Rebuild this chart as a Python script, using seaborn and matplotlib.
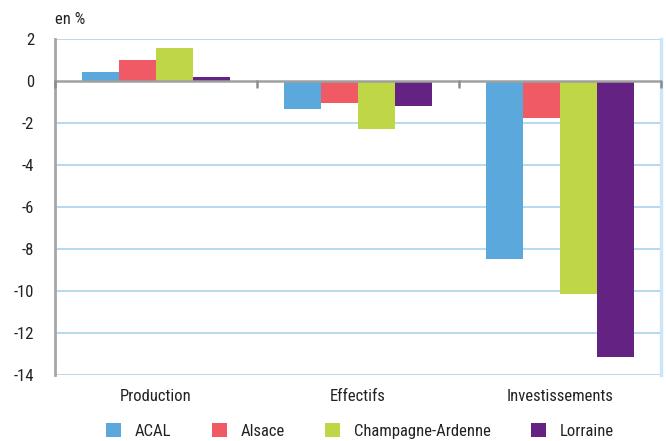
import matplotlib
matplotlib.use("Agg")
import matplotlib.pyplot as plt
from matplotlib import font_manager
from matplotlib.patches import Patch
import seaborn as sns
import pandas as pd

categories = ["Production", "Effectifs", "Investissements"]
regions = ["ACAL", "Alsace", "Champagne-Ardenne", "Lorraine"]
acal = [0.43, -1.32, -8.48]
alsace = [1.0, -1.03, -1.75]
champagne = [1.57, -2.27, -10.14]
lorraine = [0.19, -1.18, -13.13]
colors = ["#5BA8DC", "#F05A64", "#BFD647", "#642383"]
yticks = [2, 0, -2, -4, -6, -8, -10, -12, -14]

rows = []
for reg, vals in zip(regions, [acal, alsace, champagne, lorraine]):
    for cat, v in zip(categories, vals):
        rows.append({"categorie": cat, "region": reg, "valeur": v})
df = pd.DataFrame(rows)

sns.set_style("white")

# prefer a narrow sans-serif when one is installed
installed = {f.name for f in font_manager.fontManager.ttflist}
narrow = [n for n in ["Liberation Sans Narrow", "Arial Narrow", "Roboto Condensed",
                      "Open Sans Condensed", "DejaVu Sans Condensed"] if n in installed]
plt.rcParams["font.family"] = narrow + ["Liberation Sans", "DejaVu Sans"]
fs = 12 if narrow else 11

fig = plt.figure(figsize=(6.66, 4.41), dpi=100)
ax = fig.add_axes([55 / 666, 1 - 375 / 441, (661 - 55) / 666, (375 - 39) / 441])

sns.barplot(data=df, x="categorie", y="valeur", hue="region", order=categories,
            hue_order=regions, palette=colors, width=0.73, saturation=1,
            ax=ax, legend=False, zorder=3)
for p in ax.patches:
    p.set_edgecolor("none")

ax.set_xlim(-0.5, 2.5)
ax.set_ylim(-14, 2)
ax.set_yticks(yticks)
ax.set_yticklabels([str(t) for t in yticks], fontsize=fs, color="#222222")
ax.set_xlabel("")
ax.set_ylabel("")
ax.tick_params(axis="x", length=0, pad=10, labelsize=fs, labelcolor="#222222")
ax.tick_params(axis="y", length=5, width=1.2, color="#999999", pad=10)

grid_c = "#A9D3EE"
for t in yticks:
    if t != 0:
        ax.axhline(t, color=grid_c, lw=1.2, zorder=1)
ax.axhline(0, color="#A0A0A0", lw=1.8, zorder=4)

for s in ["top", "bottom"]:
    ax.spines[s].set_visible(False)
ax.spines["right"].set_color("#CDE6F5")
ax.spines["right"].set_linewidth(2.5)
ax.spines["left"].set_color("#A6A6A6")
ax.spines["left"].set_linewidth(2)

# small tick marks on the zero line between the groups
for xb in [-0.5, 0.5, 1.5, 2.5]:
    ax.plot([xb, xb], [0, -0.3], color="#8C8C8C", lw=1.8, zorder=5, clip_on=False)

fig.text(55 / 666, 1 - 20 / 441, "en %", fontsize=fs, color="#222222",
         ha="left", va="center")

handles = [Patch(facecolor=c, edgecolor="none", label=r) for c, r in zip(colors, regions)]
fig.legend(handles=handles, loc="center", bbox_to_anchor=(360 / 666, 1 - 431 / 441),
           ncol=4, frameon=False, fontsize=fs, handlelength=0.9, handleheight=0.9,
           columnspacing=2.4, handletextpad=0.84, labelcolor="#222222",
           borderaxespad=0, borderpad=0)

fig.savefig("out.png", dpi=100)
